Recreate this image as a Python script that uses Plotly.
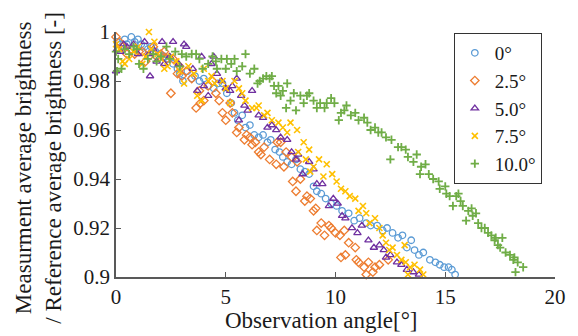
import plotly.graph_objects as go

# ---- data ----
x_0 = [0.05,0.2,0.4,0.5,0.7,0.85,1.0,1.15,1.3,1.45,1.6,1.8,2.0,2.2,2.4,2.6,2.8,2.9,3.05,3.25,
       3.45,3.6,3.8,4.0,4.2,4.45,4.65,4.85,5.05,5.25,5.4,5.55,5.75,5.9,6.1,6.3,6.5,6.7,6.9,7.05,
       7.25,7.45,7.6,7.8,8.0,8.2,8.4,8.6,8.8,9.0,9.15,9.35,9.55,9.8,10.05,10.3,10.6,10.85,11.1,11.4,
       11.6,11.9,12.15,12.35,12.6,12.85,13.05,13.25,13.45,13.6,13.8,14.0,14.3,14.55,14.75,14.95,15.15,15.3,15.45]
y_0 = [0.996,0.995,0.997,0.995,0.998,0.996,0.997,0.995,0.994,0.993,0.994,0.992,0.991,0.990,0.989,0.987,0.985,0.983,0.980,0.984,
       0.981,0.982,0.980,0.981,0.978,0.977,0.979,0.979,0.975,0.971,0.967,0.964,0.966,0.961,0.962,0.958,0.957,0.958,0.955,0.956,
       0.952,0.951,0.949,0.947,0.946,0.948,0.944,0.943,0.942,0.937,0.935,0.934,0.932,0.930,0.929,0.927,0.926,0.923,0.924,0.922,
       0.921,0.921,0.919,0.920,0.918,0.916,0.917,0.912,0.915,0.911,0.909,0.910,0.907,0.906,0.905,0.904,0.904,0.903,0.901]

x_25 = [0.0,0.15,0.3,0.5,0.7,0.85,1.05,1.2,1.35,1.5,1.7,1.85,2.05,2.2,2.3,2.5,2.6,2.8,2.9,3.0,
        3.2,3.45,3.65,3.8,3.85,4.0,4.2,4.4,4.55,4.7,4.85,5.0,5.2,5.3,5.5,5.6,5.85,5.95,6.1,6.2,
        6.35,6.5,6.6,6.75,7.0,7.3,7.35,7.5,7.65,7.75,8.0,8.05,8.2,8.25,8.4,8.6,8.7,8.85,9.0,9.1,
        9.15,9.35,9.5,9.7,9.8,10.0,10.2,10.25,10.4,10.45,10.6,10.9,10.95,11.05,11.3,11.4,11.5,11.7,11.8,12.0,12.4]
y_25 = [0.998,0.996,0.994,0.991,0.993,0.991,0.992,0.992,0.988,0.990,0.994,0.990,0.991,0.992,0.989,0.975,0.989,0.983,0.986,0.982,
        0.984,0.981,0.969,0.976,0.971,0.972,0.978,0.980,0.975,0.972,0.967,0.964,0.971,0.967,0.959,0.961,0.956,0.958,0.957,0.954,
        0.955,0.951,0.950,0.953,0.948,0.946,0.955,0.955,0.945,0.951,0.949,0.939,0.935,0.947,0.940,0.931,0.933,0.932,0.927,0.928,
        0.919,0.922,0.917,0.921,0.920,0.918,0.917,0.908,0.919,0.909,0.914,0.912,0.907,0.906,0.904,0.901,0.906,0.902,0.904,0.905,0.907]

x_50 = [0.0,0.05,0.2,0.35,0.5,0.8,1.0,1.3,1.5,1.55,1.7,1.85,2.1,2.2,2.45,2.6,2.85,3.1,3.2,3.5,
        3.7,3.9,4.0,4.2,4.35,4.45,4.6,4.8,5.0,5.2,5.3,5.5,5.6,5.7,5.85,6.0,6.2,6.5,6.7,6.9,
        7.1,7.3,7.5,7.8,8.0,8.2,8.3,8.5,8.8,9.0,9.15,9.4,9.7,9.9,10.1,10.3,10.45,10.75,11.0,11.2,
        11.5,11.75,12.0,12.2,12.3,12.5,12.8,13.0,13.25,13.55,13.8]
y_50 = [0.984,0.993,0.992,0.995,0.994,0.995,0.991,0.996,0.991,0.982,0.993,0.988,0.996,0.987,0.990,0.996,0.987,0.995,0.994,0.985,
        0.976,0.990,0.978,0.974,0.987,0.990,0.983,0.980,0.977,0.976,0.978,0.981,0.964,0.974,0.970,0.968,0.976,0.966,0.965,0.961,
        0.962,0.960,0.957,0.956,0.951,0.948,0.950,0.942,0.947,0.944,0.938,0.938,0.929,0.932,0.930,0.925,0.924,0.920,0.918,0.921,
        0.915,0.912,0.913,0.911,0.908,0.909,0.906,0.905,0.903,0.902,0.901]

x_75 = [0.0,0.15,0.3,0.4,0.6,0.8,1.0,1.2,1.35,1.5,1.6,1.75,1.9,2.05,2.2,2.35,2.5,2.75,2.9,3.1,
        3.3,3.55,3.7,3.9,4.0,4.2,4.35,4.5,4.85,5.0,5.2,5.4,5.6,5.75,5.9,6.2,6.4,6.5,6.75,6.9,
        7.1,7.4,7.6,7.8,7.95,8.25,8.3,8.55,8.65,8.8,8.85,9.0,9.25,9.45,9.6,9.85,10.05,10.25,10.45,10.65,
        10.9,11.05,11.25,11.4,11.55,11.8,12.0,12.15,12.3,12.45,12.6,12.8,13.0,13.15,13.2,13.4,13.3,13.6,13.85,14.0]
y_75 = [0.995,0.993,0.988,0.987,0.989,0.992,0.994,0.987,0.990,1.000,0.993,0.996,0.991,0.989,0.985,0.986,0.990,0.988,0.984,0.979,
        0.986,0.983,0.974,0.972,0.985,0.980,0.982,0.979,0.980,0.977,0.971,0.980,0.977,0.975,0.972,0.969,0.969,0.970,0.966,0.967,
        0.964,0.963,0.961,0.959,0.963,0.960,0.951,0.955,0.948,0.952,0.943,0.945,0.948,0.941,0.946,0.942,0.939,0.936,0.935,0.933,
        0.932,0.927,0.929,0.926,0.922,0.924,0.920,0.917,0.914,0.911,0.912,0.909,0.907,0.913,0.906,0.904,0.901,0.905,0.903,0.901]

x_100 = [0.0,0.05,0.1,0.25,0.4,0.6,0.8,0.95,1.05,1.25,1.45,1.7,1.85,2.05,2.3,2.45,2.7,2.9,3.0,3.2,
         3.45,3.65,3.8,3.95,4.2,4.4,4.55,4.6,4.8,5.0,5.05,5.25,5.4,5.5,5.75,5.9,6.1,6.3,6.45,6.55,
         6.7,6.85,7.0,7.1,7.2,7.3,7.4,7.5,7.6,7.75,7.8,7.95,8.1,8.2,8.4,8.55,8.7,8.8,9.0,9.15,
         9.3,9.5,9.6,9.8,9.95,10.15,10.25,10.4,10.5,10.7,10.9,11.05,11.3,11.45,11.6,11.8,11.95,12.1,12.3,12.5,
         12.55,12.85,13.0,13.2,13.3,13.55,13.7,13.85,13.9,14.1,14.25,14.45,14.7,14.75,15.0,15.05,15.2,15.35,15.5,15.6,
         15.7,15.8,15.95,16.05,16.2,16.25,16.4,16.5,16.65,16.8,16.95,17.1,17.25,17.3,17.4,17.5,17.6,17.75,17.95,18.1,
         18.15,18.3,18.2,18.55]
y_100 = [0.992,0.984,0.989,0.985,0.993,0.991,0.994,0.993,0.987,0.985,0.989,0.991,0.988,0.990,0.994,0.989,0.992,0.986,0.991,0.990,
         0.991,0.991,0.989,0.985,0.987,0.990,0.988,0.985,0.989,0.985,0.989,0.987,0.989,0.984,0.986,0.991,0.983,0.985,0.979,0.980,
         0.981,0.982,0.981,0.982,0.978,0.975,0.978,0.974,0.976,0.969,0.979,0.972,0.975,0.968,0.974,0.971,0.974,0.975,0.972,0.969,
         0.971,0.969,0.971,0.973,0.971,0.964,0.967,0.968,0.970,0.966,0.967,0.964,0.965,0.963,0.960,0.961,0.959,0.959,0.957,0.948,
         0.956,0.953,0.953,0.952,0.949,0.947,0.950,0.942,0.945,0.946,0.942,0.940,0.939,0.936,0.937,0.934,0.933,0.929,0.933,0.934,
         0.931,0.929,0.923,0.927,0.928,0.925,0.926,0.922,0.920,0.920,0.918,0.917,0.915,0.916,0.913,0.912,0.916,0.910,0.909,0.907,
         0.908,0.906,0.902,0.904]

series_names = ["0°", "2.5°", "5.0°", "7.5°", "10.0°"]
x_ticks = [0, 5, 10, 15, 20]
y_ticks = [0.9, 0.92, 0.94, 0.96, 0.98, 1.0]
y_tick_text = ["0.9", "0.92", "0.94", "0.96", "0.98", "1"]

FONT = "Liberation Serif"
TXT = "#1a1a1a"
AXC = "#595959"

styles = [
    dict(symbol="circle-open", size=6.5, color="#5B9BD5", line=dict(width=1.3, color="#5B9BD5")),
    dict(symbol="diamond-open", size=6.5, color="#ED7D31", line=dict(width=1.3, color="#ED7D31")),
    dict(symbol="triangle-up-open", size=6.5, color="#7030A0", line=dict(width=1.3, color="#7030A0")),
    dict(symbol="x-thin", size=6, color="#FFC000", line=dict(width=1.6, color="#FFC000")),
    dict(symbol="cross-thin", size=6, color="#70AD47", line=dict(width=1.8, color="#70AD47")),
]
data = [(x_0, y_0), (x_25, y_25), (x_50, y_50), (x_75, y_75), (x_100, y_100)]

fig = go.Figure()
for (xs, ys), name, st in zip(data, series_names, styles):
    fig.add_trace(go.Scatter(x=xs, y=ys, mode="markers", name=name, marker=st, cliponaxis=False))

fig.update_layout(
    width=578, height=336,
    margin=dict(l=116, r=20, t=32, b=59),
    plot_bgcolor="white", paper_bgcolor="white",
    font=dict(family=FONT, color=TXT, size=21),
    showlegend=True,
    legend=dict(
        x=0.97, y=0.996, xanchor="right", yanchor="top",
        bordercolor="#333333", borderwidth=1, bgcolor="white",
        font=dict(family=FONT, size=19, color=TXT),
        itemwidth=30, tracegroupgap=0,
    ),
    xaxis=dict(
        range=[0, 20], tickvals=x_ticks, ticks="inside", ticklen=5, tickwidth=1.2, tickcolor=AXC,
        showline=True, linecolor=AXC, linewidth=1.5, showgrid=False, zeroline=False,
        tickfont=dict(family=FONT, size=21, color=TXT),
    ),
    yaxis=dict(
        range=[0.9, 1.0], tickvals=y_ticks, ticktext=y_tick_text, ticks="inside", ticklen=5,
        tickwidth=1.2, tickcolor=AXC,
        showline=True, linecolor=AXC, linewidth=1.5, showgrid=False, zeroline=False,
        tickfont=dict(family=FONT, size=21, color=TXT),
    ),
)

fig.add_annotation(
    text="Observation angle[°]", xref="paper", yref="paper", x=0.468, y=-0.176,
    xanchor="center", yanchor="middle", showarrow=False,
    font=dict(family=FONT, size=23, color=TXT),
)
fig.add_annotation(
    text="Measurment average brightness<br>/ Reference average brightness [-]",
    xref="paper", yref="paper", x=-0.176, y=0.445, textangle=-90,
    xanchor="center", yanchor="middle", showarrow=False,
    font=dict(family=FONT, size=23, color=TXT),
)

fig.write_html("out.html", config={"displayModeBar": False},
               post_script="document.body.style.margin='0';document.body.style.padding='0';")
